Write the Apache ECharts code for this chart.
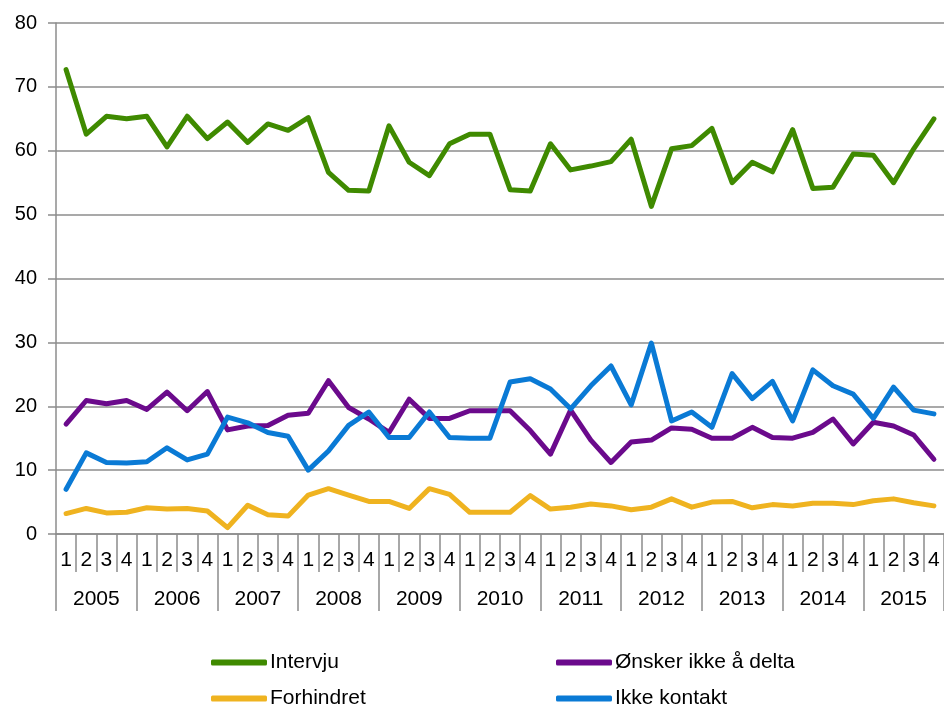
<!DOCTYPE html>
<html>
<head>
<meta charset="utf-8">
<script src="https://cdn.jsdelivr.net/npm/echarts@6/dist/echarts.min.js"></script>
<style>
  html, body { margin: 0; padding: 0; background: #fff; }
  #chart { width: 944px; height: 706px; }
</style>
</head>
<body>
<div id="chart"></div>
<script>
// år og kvartal
const years = ['2005', '2006', '2007', '2008', '2009', '2010', '2011', '2012', '2013', '2014', '2015']
const quarters = ['1', '2', '3', '4']

// prosent per kvartal, 2005K1 - 2015K4
const intervju = [
  72.7, 62.6, 65.4, 65.0, 65.4, 60.6, 65.4, 61.9, 64.5, 61.3, 64.2, 63.2,
  65.2, 56.6, 53.8, 53.7, 63.9, 58.2, 56.1, 61.1, 62.6, 62.6, 53.9, 53.7,
  61.1, 57.0, 57.6, 58.3, 61.8, 51.3, 60.3, 60.8, 63.5, 55.0, 58.2, 56.7,
  63.3, 54.1, 54.3, 59.5, 59.3, 55.0, 60.3, 65.0
]
const onskerIkke = [
  17.2, 20.9, 20.4, 20.9, 19.5, 22.2, 19.3, 22.3, 16.3, 16.9, 17.0, 18.6,
  18.9, 24.0, 19.8, 18.0, 15.9, 21.1, 18.1, 18.1, 19.3, 19.3, 19.3, 16.2,
  12.5, 19.4, 14.7, 11.2, 14.4, 14.7, 16.6, 16.4, 15.0, 15.0, 16.7, 15.1,
  15.0, 15.9, 18.0, 14.1, 17.5, 16.9, 15.5, 11.7
]
const forhindret = [
  3.2, 4.0, 3.3, 3.4, 4.1, 3.9, 4.0, 3.6, 1.0, 4.5, 3.0, 2.8,
  6.1, 7.1, 6.1, 5.1, 5.1, 4.0, 7.1, 6.2, 3.4, 3.4, 3.4, 6.0,
  3.9, 4.2, 4.7, 4.4, 3.8, 4.2, 5.5, 4.2, 5.0, 5.1, 4.1, 4.6,
  4.4, 4.8, 4.8, 4.6, 5.2, 5.5, 4.9, 4.4
]
const ikkeKontakt = [
  7.0, 12.7, 11.2, 11.1, 11.3, 13.5, 11.6, 12.5, 18.3, 17.4, 15.9, 15.3,
  10.0, 13.0, 17.0, 19.1, 15.1, 15.1, 19.1, 15.1, 15.0, 15.0, 23.8, 24.3,
  22.7, 19.6, 23.2, 26.3, 20.2, 29.9, 17.7, 19.1, 16.7, 25.1, 21.2, 23.9,
  17.7, 25.7, 23.2, 21.9, 18.1, 23.0, 19.4, 18.8
]

// unike nøkler for kvartalsaksen, vis bare kvartalsnummeret
const quarterKeys = []
years.forEach(y => quarters.forEach(q => quarterKeys.push(y + '-' + q)))

const gridColor = '#8c8c8c'
const font = 'Liberation Sans, Arial, sans-serif'

const chart = echarts.init(document.getElementById('chart'))

const lineSeries = (name, data, color) => ({
  name: name,
  type: 'line',
  data: data,
  showSymbol: false,
  symbol: 'none',
  lineStyle: { color: color, width: 5, join: 'round', cap: 'round' },
  itemStyle: { color: color },
  emphasis: { disabled: true },
  z: 3
})

const legendText = { fontSize: 21, fontFamily: font, color: '#000', lineHeight: 20, padding: [0, 0, 0, -2] }

chart.setOption({
  animation: false,
  grid: { left: 56, top: 23, width: 897, height: 511 },
  xAxis: [
    {
      type: 'category',
      data: quarterKeys,
      boundaryGap: true,
      axisLine: { show: true, lineStyle: { color: gridColor, width: 1.5 } },
      axisTick: { show: true, interval: 0, length: 38, lineStyle: { color: gridColor, width: 1.5 } },
      axisLabel: {
        interval: 0, margin: 16,
        formatter: v => v.split('-')[1],
        color: '#000', fontSize: 21, fontFamily: font
      },
      splitLine: { show: false }
    },
    {
      type: 'category',
      data: years,
      position: 'bottom',
      boundaryGap: true,
      axisLine: { show: false },
      axisTick: { show: true, interval: 0, length: 77, lineStyle: { color: gridColor, width: 1.5 } },
      axisLabel: { interval: 0, margin: 55, color: '#000', fontSize: 21, fontFamily: font },
      splitLine: { show: false }
    }
  ],
  yAxis: {
    type: 'value',
    min: 0,
    max: 80,
    interval: 10,
    axisLine: { show: true, lineStyle: { color: gridColor, width: 1.5 } },
    axisTick: { show: true, length: 8, lineStyle: { color: gridColor, width: 1.5 } },
    axisLabel: { margin: 19, color: '#000', fontSize: 20, fontFamily: font },
    splitLine: { show: true, lineStyle: { color: gridColor, width: 1.5 } }
  },
  legend: [
    {
      data: ['Intervju', 'Forhindret'],
      orient: 'vertical',
      left: 211, top: 652, height: 60, padding: 0,
      itemWidth: 56, itemHeight: 6, itemGap: 15, icon: 'roundRect',
      textStyle: legendText
    },
    {
      data: ['Ønsker ikke å delta', 'Ikke kontakt'],
      orient: 'vertical',
      left: 556, top: 652, height: 60, padding: 0,
      itemWidth: 56, itemHeight: 6, itemGap: 15, icon: 'roundRect',
      textStyle: legendText
    }
  ],
  series: [
    lineSeries('Intervju', intervju, '#3f8a00'),
    lineSeries('Ønsker ikke å delta', onskerIkke, '#6b0a8c'),
    lineSeries('Forhindret', forhindret, '#efb320'),
    lineSeries('Ikke kontakt', ikkeKontakt, '#0a7ad5')
  ]
})

window.addEventListener('resize', () => chart.resize())
</script>
</body>
</html>
